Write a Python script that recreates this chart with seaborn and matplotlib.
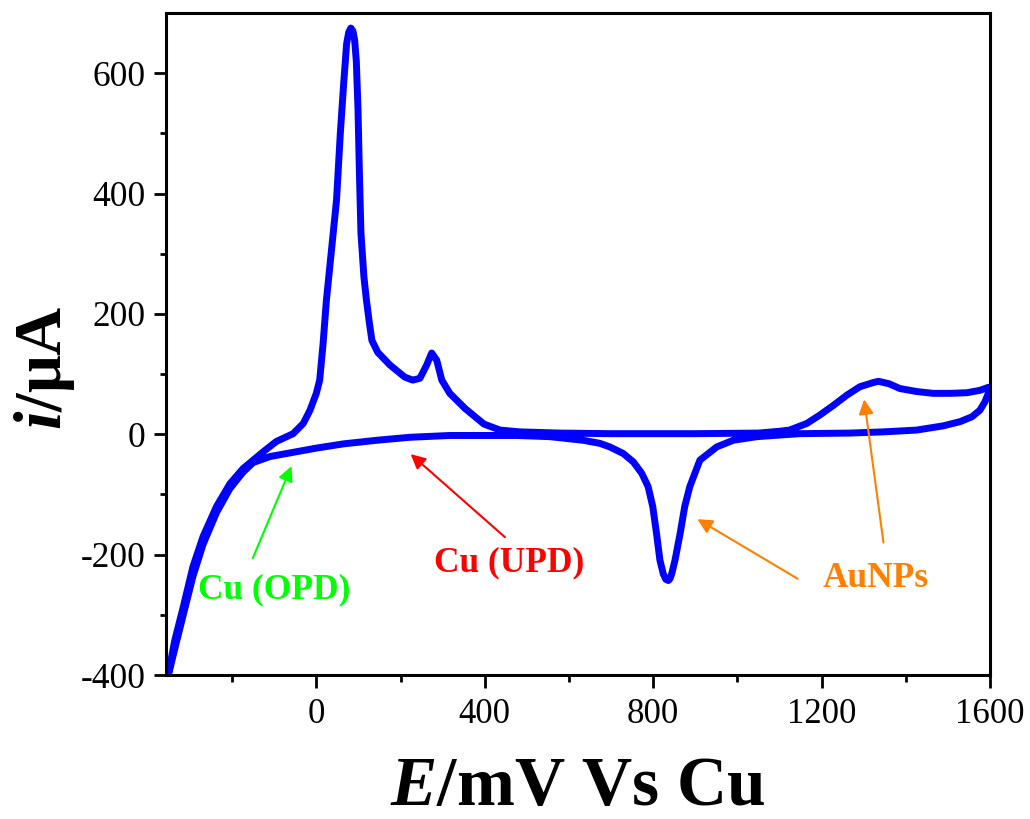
import matplotlib
matplotlib.use("Agg")
import matplotlib.pyplot as plt
import seaborn as sns
import pandas as pd

# ---- data ----
# anodic scan (E increasing), mV vs Cu ; current in uA
anodic_E = [-352, -336, -316, -293, -269, -237, -205, -174, -150, -126, -95, -55, -31,
            -15, 0, 8, 16, 24, 36, 48, 57, 65, 72, 77, 82, 87, 91, 95, 99, 102, 106, 113, 119,
            126, 132, 146, 175, 210, 229, 246, 262, 274, 286, 298, 317, 353, 398, 436, 483,
            578, 700, 900, 1050, 1100, 1124, 1165, 1196, 1228, 1260, 1291, 1323, 1335,
            1360, 1386, 1426, 1465, 1505, 1545, 1576, 1596, 1600]
anodic_I = [-400, -342, -287, -220, -170, -120, -82, -57, -43, -29, -12, 1, 18,
            40, 68, 90, 150, 223, 306, 389, 500, 583, 649, 668, 675, 670, 655, 620, 540, 444, 334, 262, 223,
            185, 156, 136, 115, 95, 90, 93, 115, 135, 123, 90, 68, 43, 17, 7, 4,
            2, 1, 1, 2, 5, 7, 18, 32, 48, 65, 79, 86, 88,
            84, 76, 71, 68, 68, 69, 73, 78, 78]

# cathodic scan (E decreasing)
cathodic_E = [1600, 1596, 1588, 1576, 1557, 1529, 1489, 1426, 1347, 1268, 1148, 1046, 990,
              951, 911, 887, 875, 864, 852, 844, 840, 836, 830, 824, 816, 808, 799, 788, 773,
              753, 729, 697, 673, 634, 555, 476, 317, 222, 143, 64, 0, -63, -110, -150,
              -174, -205, -237, -269, -293, -316, -336, -352]
cathodic_I = [78, 68, 54, 40, 29, 21, 14, 7, 4, 2, 1, -4, -10,
              -21, -43, -87, -120, -165, -209, -232, -240, -243, -241, -232, -209, -165, -120, -87, -65,
              -46, -32, -21, -15, -10, -4, -2, -2, -5, -10, -16, -23, -31, -37, -47,
              -63, -90, -130, -183, -236, -300, -356, -402]

# annotation labels
labels = ["Cu (OPD)", "Cu (UPD)", "AuNPs"]
label_colors = ["#00ff00", "#ff0000", "#ff8000"]

x_ticks = [0, 400, 800, 1200, 1600]
y_ticks = [-400, -200, 0, 200, 400, 600]

# ---- style ----
sns.set_theme(style="ticks")
plt.rcParams["font.family"] = ["Liberation Serif", "DejaVu Serif"]
plt.rcParams["mathtext.fontset"] = "custom"
plt.rcParams["mathtext.it"] = "Liberation Serif:italic:bold"
plt.rcParams["mathtext.rm"] = "Liberation Serif:bold"
plt.rcParams["text.color"] = "black"
plt.rcParams["axes.labelcolor"] = "black"

fig = plt.figure(figsize=(10.30, 8.19), dpi=100)
ax = fig.add_axes([166 / 1030, 1 - 675 / 819, (990 - 166) / 1030, (675 - 13) / 819])

E_all = anodic_E + cathodic_E
I_all = anodic_I + cathodic_I
df = pd.DataFrame({"E": E_all, "I": I_all})
sns.lineplot(data=df, x="E", y="I", sort=False, estimator=None, ax=ax,
             color="#0000ff", linewidth=5, solid_joinstyle="round", solid_capstyle="round")

ax.set_xlim(-357, 1600)
ax.set_ylim(-400, 700)
ax.set_xticks(x_ticks)
ax.set_xticks([-200, 200, 600, 1000, 1400], minor=True)
ax.set_yticks(y_ticks)
ax.set_yticks([-300, -100, 100, 300, 500], minor=True)
ax.set_xticklabels([str(v) for v in x_ticks])
ax.set_yticklabels([str(v) for v in y_ticks])

for s in ax.spines.values():
    s.set_linewidth(2.2)
    s.set_color("black")
ax.tick_params(axis="both", which="both", direction="out", width=2, colors="black",
               top=False, right=False)
ax.tick_params(axis="y", which="major", length=8.5, pad=6, labelsize=25.5)
ax.tick_params(axis="y", which="minor", length=4.5)
ax.tick_params(axis="x", which="major", length=9.5, pad=7, labelsize=25)
ax.tick_params(axis="x", which="minor", length=5)

ax.set_xlabel("$E$/mV Vs Cu", fontsize=50, fontweight="bold", labelpad=18, color="black")
ax.set_ylabel("$i$/μA", fontsize=48, fontweight="bold", color="black")
ax.yaxis.set_label_coords(-0.108, 0.464)

# ---- annotations ----
arrow_kw = dict(arrowstyle="-|>", lw=1.5, mutation_scale=22, shrinkA=0, shrinkB=0)
ax.annotate("", xy=(-59, -53), xytext=(-151, -206),
            arrowprops=dict(color=label_colors[0], **arrow_kw))
ax.annotate("", xy=(224, -33), xytext=(448, -171),
            arrowprops=dict(color=label_colors[1], **arrow_kw))
ax.annotate("", xy=(905, -141), xytext=(1143, -240),
            arrowprops=dict(color=label_colors[2], **arrow_kw))
ax.annotate("", xy=(1301, 58), xytext=(1347, -180),
            arrowprops=dict(color=label_colors[2], **arrow_kw))

ax.text(-99, -272, labels[0], color=label_colors[0], fontsize=25.5, fontweight="bold",
        ha="center", va="baseline")
ax.text(459, -228, labels[1], color=label_colors[1], fontsize=25.5, fontweight="bold",
        ha="center", va="baseline")
ax.text(1329, -253, labels[2], color=label_colors[2], fontsize=25.5, fontweight="bold",
        ha="center", va="baseline")

fig.savefig("out.png", dpi=100)
